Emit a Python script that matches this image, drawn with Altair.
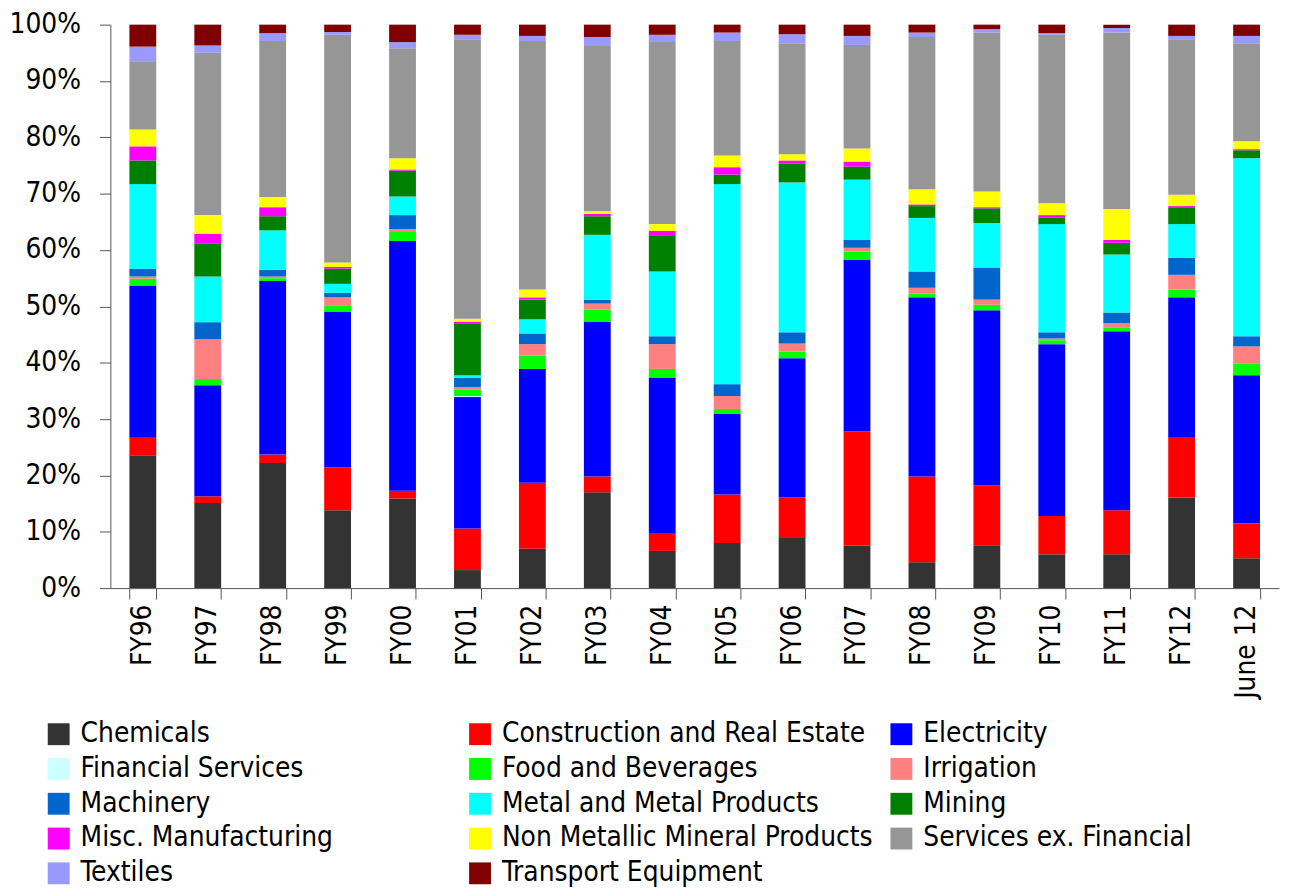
import altair as alt
import pandas as pd

years = ["FY96", "FY97", "FY98", "FY99", "FY00", "FY01", "FY02", "FY03", "FY04",
         "FY05", "FY06", "FY07", "FY08", "FY09", "FY10", "FY11", "FY12", "June 12"]

series = ["Chemicals", "Construction and Real Estate", "Electricity",
          "Financial Services", "Food and Beverages", "Irrigation",
          "Machinery", "Metal and Metal Products", "Mining",
          "Misc. Manufacturing", "Non Metallic Mineral Products", "Services ex. Financial",
          "Textiles", "Transport Equipment"]

colors = ["#333333", "#FF0000", "#0000FF", "#CCFFFF", "#00FF00", "#FF8080",
          "#0066CC", "#00FFFF", "#008000", "#FF00FF", "#FFFF00", "#969696",
          "#9999FF", "#800000"]

chemicals = [23.6, 15.1, 22.2, 13.8, 15.9, 3.2, 7.0, 17.0, 6.6, 8.0, 8.9, 7.5, 4.6, 7.6, 6.0, 6.0, 16.1, 5.3]
construction = [3.1, 1.2, 1.5, 7.6, 1.4, 7.4, 11.7, 2.8, 3.2, 8.6, 7.2, 20.3, 15.2, 10.6, 6.8, 7.8, 10.6, 6.2]
electricity = [27.0, 19.7, 30.8, 27.7, 44.3, 23.3, 20.2, 27.5, 27.6, 14.3, 24.7, 30.5, 31.8, 31.1, 30.5, 31.8, 24.9, 26.3]
financial = [0.0, 0.0, 0.0, 0.0, 0.0, 0.2, 0.0, 0.0, 0.0, 0.0, 0.0, 0.0, 0.0, 0.0, 0.0, 0.0, 0.0, 0.0]
food = [1.2, 1.1, 0.5, 1.1, 1.6, 1.1, 2.4, 2.1, 1.5, 0.9, 1.2, 1.4, 0.7, 1.0, 0.7, 0.7, 1.4, 2.1]
irrigation = [0.4, 7.1, 0.3, 1.4, 0.5, 0.5, 2.0, 1.1, 4.4, 2.3, 1.4, 0.7, 1.0, 0.9, 0.3, 0.7, 2.6, 3.0]
machinery = [1.4, 3.0, 1.2, 0.8, 2.5, 1.6, 1.9, 0.7, 1.4, 2.1, 2.0, 1.4, 2.9, 5.7, 1.1, 1.9, 3.0, 1.8]
metal = [15.0, 8.1, 7.0, 1.6, 3.3, 0.5, 2.5, 11.5, 11.5, 35.5, 26.6, 10.7, 9.5, 7.9, 19.2, 10.3, 6.0, 31.6]
mining = [4.2, 5.8, 2.5, 2.7, 4.6, 9.2, 3.5, 3.3, 6.3, 1.7, 3.3, 2.3, 2.1, 2.6, 1.2, 2.1, 3.0, 1.4]
misc = [2.5, 1.8, 1.6, 0.3, 0.2, 0.3, 0.4, 0.4, 0.9, 1.3, 0.6, 0.9, 0.3, 0.2, 0.4, 0.5, 0.2, 0.2]
nonmetal = [3.0, 3.3, 1.8, 0.8, 2.0, 0.5, 1.4, 0.5, 1.2, 2.1, 1.1, 2.3, 2.7, 2.8, 2.1, 5.5, 2.0, 1.4]
services = [12.1, 28.8, 27.7, 40.4, 19.5, 49.5, 44.1, 29.3, 32.3, 20.3, 19.6, 18.4, 27.0, 28.2, 29.9, 31.3, 27.5, 17.4]
textiles = [2.6, 1.3, 1.4, 0.5, 1.1, 0.9, 0.9, 1.6, 1.3, 1.5, 1.7, 1.6, 0.8, 0.6, 0.3, 0.8, 0.7, 1.3]
transport = [3.9, 3.7, 1.5, 1.3, 3.1, 1.8, 2.0, 2.2, 1.8, 1.4, 1.7, 2.0, 1.4, 0.8, 1.5, 0.6, 2.0, 2.0]

series_values = [chemicals, construction, electricity, financial, food, irrigation,
                 machinery, metal, mining, misc, nonmetal, services, textiles, transport]

rows = []
for si, (name, vals) in enumerate(zip(series, series_values)):
    for yi, yr in enumerate(years):
        rows.append({"year": yr, "sector": name, "value": vals[yi], "idx": si})
df = pd.DataFrame(rows)

FONT = "DejaVu Sans Condensed, Liberation Sans Narrow, sans-serif"

chart = alt.Chart(df).mark_bar(strokeWidth=0).encode(
    x=alt.X("year:N", sort=years, title=None,
            scale=alt.Scale(paddingInner=0.587, paddingOuter=0.2935),
            axis=alt.Axis(labelAngle=270, tickBand="extent", tickSize=11,
                          labelPadding=5, labelFontSize=28, labelFont=FONT,
                          labelColor="black", domainColor="#555555",
                          tickColor="#555555", labelAlign="right",
                          labelBaseline="middle", labelOverlap=False)),
    y=alt.Y("value:Q", stack="normalize", title=None,
            scale=alt.Scale(domain=[0, 1], nice=False),
            axis=alt.Axis(format=".0%", values=[0, 0.1, 0.2, 0.3, 0.4, 0.5, 0.6, 0.7, 0.8, 0.9, 1.0],
                          tickSize=11, labelPadding=19, labelFontSize=28, labelFont=FONT,
                          labelColor="black", domainColor="#555555", tickColor="#555555",
                          grid=False, labelOverlap=False, labelFlush=False)),
    color=alt.Color("sector:N", scale=alt.Scale(domain=series, range=colors),
                    legend=alt.Legend(orient="none", legendX=-66, legendY=700,
                                      direction="horizontal",
                                      columns=3, gridAlign="all", symbolType="square",
                                      symbolSize=484, symbolStrokeWidth=0,
                                      labelFontSize=28, labelFont=FONT, labelColor="black",
                                      labelOffset=8, columnPadding=14, rowPadding=7,
                                      labelLimit=600, title=None, padding=0)),
    order=alt.Order("idx:Q", sort="ascending"),
).properties(
    width=1176, height=567,
    autosize=alt.AutoSizeParams(type="none"),
    padding={"left": 103, "top": 14, "right": 5, "bottom": 298},
).configure_view(stroke=None)

chart.save("out.html", embed_options={"renderer": "svg", "actions": False})
